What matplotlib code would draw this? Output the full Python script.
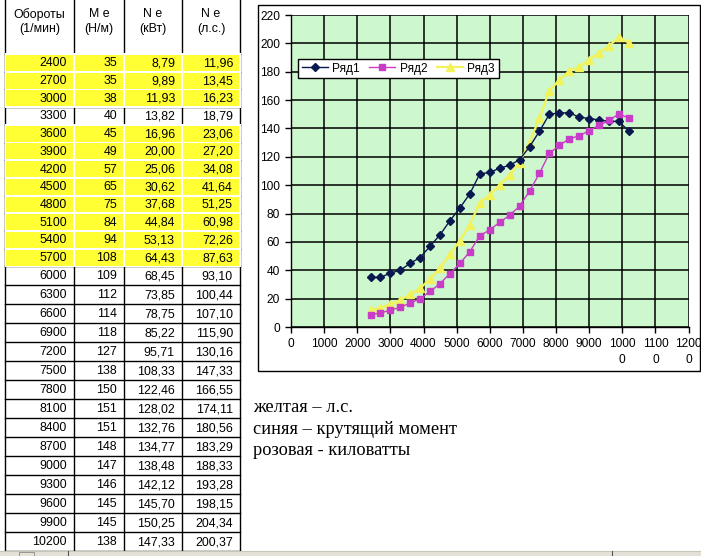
import matplotlib
matplotlib.use('Agg')
import matplotlib.pyplot as plt
from matplotlib.patches import Rectangle

# ---------------- data ----------------
rpm = [2400, 2700, 3000, 3300, 3600, 3900, 4200, 4500, 4800, 5100, 5400, 5700,
       6000, 6300, 6600, 6900, 7200, 7500, 7800, 8100, 8400, 8700, 9000, 9300,
       9600, 9900, 10200]
torque_nm = [35, 35, 38, 40, 45, 49, 57, 65, 75, 84, 94, 108, 109, 112, 114, 118,
             127, 138, 150, 151, 151, 148, 147, 146, 145, 145, 138]
power_kw = [8.79, 9.89, 11.93, 13.82, 16.96, 20.00, 25.06, 30.62, 37.68, 44.84,
            53.13, 64.43, 68.45, 73.85, 78.75, 85.22, 95.71, 108.33, 122.46,
            128.02, 132.76, 134.77, 138.48, 142.12, 145.70, 150.25, 147.33]
power_hp = [11.96, 13.45, 16.23, 18.79, 23.06, 27.20, 34.08, 41.64, 51.25, 60.98,
            72.26, 87.63, 93.10, 100.44, 107.10, 115.90, 130.16, 147.33, 166.55,
            174.11, 180.56, 183.29, 188.33, 193.28, 198.15, 204.34, 200.37]
highlighted = [True, True, True, False, True, True, True, True, True, True, True, True,
               False, False, False, False, False, False, False, False, False, False,
               False, False, False, False, False]
headers = ["Обороты\n(1/мин)", "М е\n(Н/м)", "N e\n(кВт)", "N e\n(л.с.)"]
series_names = ["Ряд1", "Ряд2", "Ряд3"]
x_ticks = [0, 1000, 2000, 3000, 4000, 5000, 6000, 7000, 8000, 9000, 10000, 11000, 12000]
x_tick_labels = ["0", "1000", "2000", "3000", "4000", "5000", "6000", "7000", "8000",
                 "9000", "1000\n0", "1100\n0", "1200\n0"]
y_ticks = [0, 20, 40, 60, 80, 100, 120, 140, 160, 180, 200, 220]
notes = ["желтая – л.с.", "синяя – крутящий момент", "розовая - киловатты"]

# ---------------- layout ----------------
W, H = 701, 556
fig = plt.figure(figsize=(W / 100, H / 100), dpi=100)
bg = fig.add_axes([0, 0, 1, 1])
bg.set_xlim(0, W)
bg.set_ylim(H, 0)
bg.axis('off')

SANS = 'Liberation Sans'
TFS = 8.9

col_x = [5, 74, 124, 182, 240]
head_bot = 54


def row_top(i):
    if i < 12:
        return head_bot + i * 17.7
    return head_bot + 12 * 17.7 + (i - 12) * 19.0


def row_bot(i):
    return row_top(i + 1)


n = len(rpm)
table_bot = row_bot(n - 1)

# grid lines (black)
for cx in col_x:
    bg.plot([cx, cx], [0, table_bot], color='black', lw=1.0, zorder=1)
bg.plot([col_x[0], col_x[-1]], [head_bot, head_bot], color='black', lw=1.0, zorder=1)
for i in range(n):
    bg.plot([col_x[0], col_x[-1]], [row_bot(i), row_bot(i)], color='black', lw=1.0, zorder=1)

# header text
for j, htxt in enumerate(headers):
    cx = (col_x[j] + col_x[j + 1]) / 2
    bg.text(cx, 21.5, htxt, ha='center', va='center', fontsize=TFS, family=SANS,
            linespacing=1.3, zorder=5)


def fmt(v):
    return f"{v:.2f}".replace('.', ',')


for i in range(n):
    t, b = row_top(i), row_bot(i)
    if highlighted[i]:
        bg.add_patch(Rectangle((col_x[0] - 0.5, t - 0.6), col_x[-1] - col_x[0] + 1.5, b - t + 1.2,
                               facecolor='white', edgecolor='none', zorder=2))
        for j in range(4):
            bg.add_patch(Rectangle((col_x[j] + 0.8, t + 0.9), col_x[j + 1] - col_x[j] - 1.6,
                                   b - t - 1.8, facecolor='#ffff33', edgecolor='none', zorder=3))
    vals = [str(rpm[i]), str(torque_nm[i]), fmt(power_kw[i]), fmt(power_hp[i])]
    ym = (t + b) / 2 + 0.5
    for j, v in enumerate(vals):
        bg.text(col_x[j + 1] - 7, ym, v, ha='right', va='center', fontsize=TFS,
                family=SANS, zorder=5)

# bottom scrollbar strip
bg.add_patch(Rectangle((0, 551), W, 6, facecolor='#e4e1d6', edgecolor='none', zorder=6))
bg.plot([0, W], [551, 551], color='#c8c4b8', lw=0.8, zorder=7)
bg.add_patch(Rectangle((19, 552), 15, 5, facecolor='none', edgecolor='#888888', lw=0.6, zorder=7))
bg.plot([68, 68], [551, 556], color='#555555', lw=0.8, zorder=7)
bg.plot([612, 612], [551, 556], color='#555555', lw=0.8, zorder=7)

# chart frame
bg.add_patch(Rectangle((258, 5), 441.5, 366, facecolor='white', edgecolor='black', lw=1.0, zorder=0.5))

# notes
for k, line in enumerate(notes):
    bg.text(253, 412 + k * 21.7, line, ha='left', va='baseline', fontsize=13.2,
            family='Liberation Serif', zorder=5)

# ---------------- chart ----------------
px0, px1 = 291, 688.5
py0, py1 = 15, 327
ax = fig.add_axes([px0 / W, 1 - py1 / H, (px1 - px0) / W, (py1 - py0) / H])
ax.set_facecolor('#cdf7cd')
ax.set_xlim(0, 12000)
ax.set_ylim(0, 220)
ax.set_xticks(x_ticks)
ax.set_xticklabels(x_tick_labels, fontsize=8.6, family=SANS, linespacing=1.45, va='top')
ax.set_yticks(y_ticks)
ax.set_yticklabels([str(v) for v in y_ticks], fontsize=8.6, family=SANS)
ax.grid(True, color='black', lw=1.1)
ax.set_axisbelow(True)
for s in ['top', 'right']:
    ax.spines[s].set_visible(False)
for s in ['left', 'bottom']:
    ax.spines[s].set_color('black')
    ax.spines[s].set_linewidth(1.0)
ax.tick_params(axis='both', direction='out', length=4, width=1.0, pad=4, colors='black')

l1, = ax.plot(rpm, torque_nm, color='#0a1850', lw=1.0, marker='D', ms=4.2,
              mfc='#0a1850', mec='#0a1850', label=series_names[0], zorder=4)
l2, = ax.plot(rpm, power_kw, color='#c83cc8', lw=1.0, marker='s', ms=5,
              mfc='#c83cc8', mec='#c83cc8', label=series_names[1], zorder=4)
l3, = ax.plot(rpm, power_hp, color='#f2f25a', lw=1.6, marker='^', ms=5.5,
              mfc='#f2f25a', mec='#f2f25a', label=series_names[2], zorder=3)

leg = ax.legend(handles=[l1, l2, l3], ncol=3, loc='upper left',
                bbox_to_anchor=(298 / W, 1 - 59 / H), bbox_transform=fig.transFigure,
                borderaxespad=0, frameon=True, fancybox=False, framealpha=1,
                edgecolor='black', facecolor='white', prop={'family': SANS, 'size': 8.6},
                handlelength=2.2, handletextpad=0.35, columnspacing=0.8, borderpad=0.3)
leg.get_frame().set_linewidth(1.0)

fig.savefig('out.png', dpi=100)
